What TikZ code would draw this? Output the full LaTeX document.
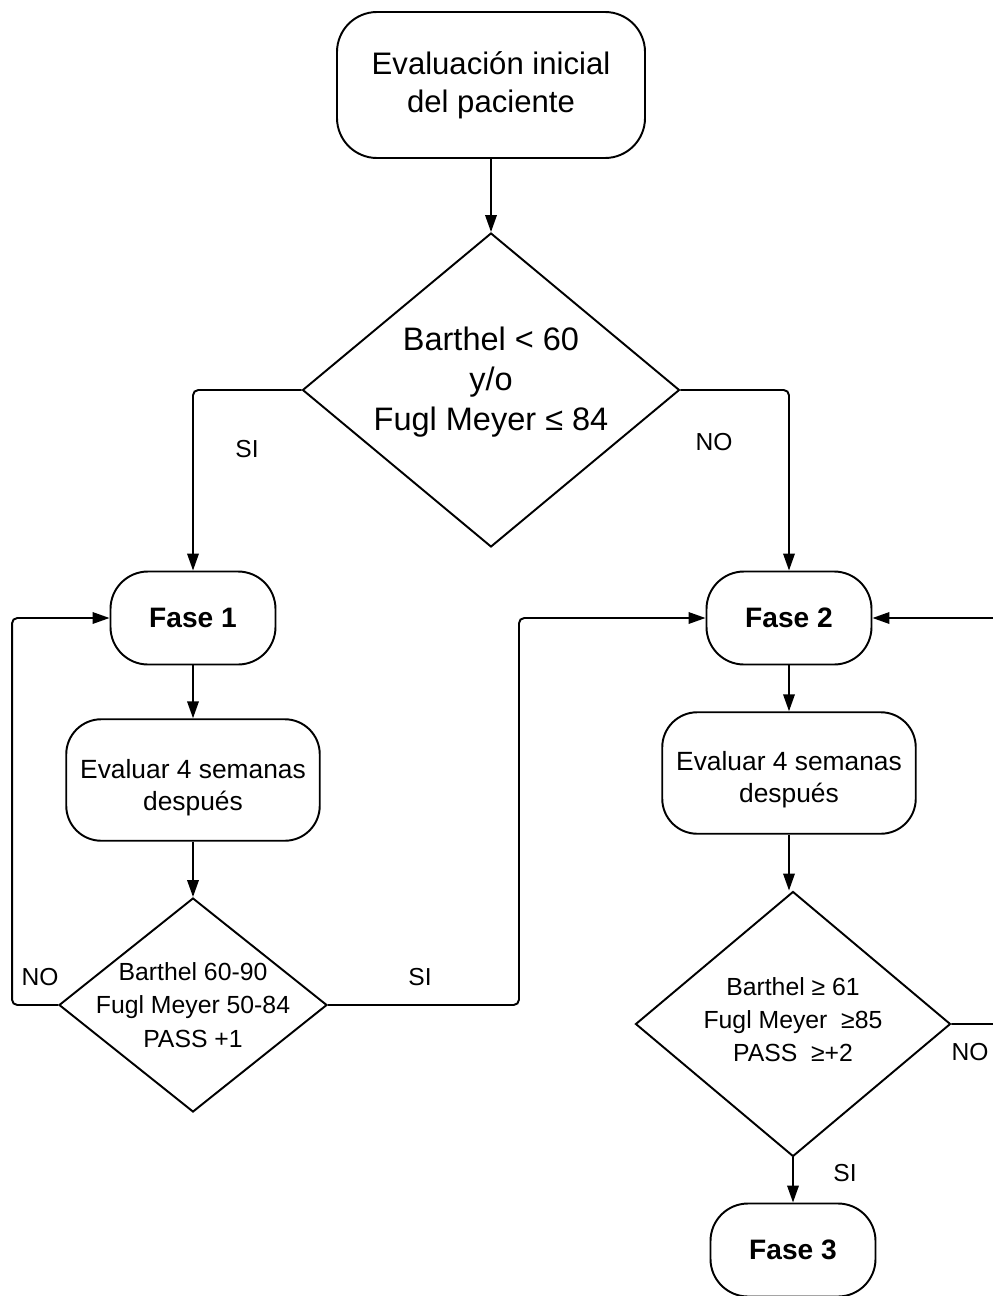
\documentclass[tikz,border=0pt]{standalone}
\usepackage{fontspec}
\setmainfont{Liberation Sans}
\usetikzlibrary{arrows.meta, positioning, shapes.geometric}
\tikzset{
  box/.style={rectangle,draw,line width=1.1pt,rounded corners=0.8cm,align=center,inner sep=2pt},
  fase/.style={box,rounded corners=0.75cm,minimum width=3.3cm,minimum height=1.86cm,font=\fontsize{16}{19}\selectfont\bfseries},
  evalbox/.style={box,rounded corners=0.7cm,minimum width=5.07cm,minimum height=2.43cm,font=\fontsize{15}{18.2}\selectfont},
  decision/.style={diamond,draw,line width=1.1pt,inner sep=0pt},
  dectext/.style={align=center,inner sep=0pt},
  lbl/.style={font=\fontsize{14}{16}\selectfont},
  line/.style={line width=1.1pt,rounded corners=3pt,-{Triangle[length=3.4mm,width=2.3mm]}}
}
\begin{document}
\begin{tikzpicture}
\useasboundingbox (0,0) rectangle (19.86,-25.92);
\node[box, minimum width=6.16cm, minimum height=2.92cm, font=\fontsize{17.7}{21.6}\selectfont] (start) at (9.82,-1.70) {Evaluación inicial\\del paciente};
\node[decision, minimum width=7.54cm, minimum height=6.28cm] (dec1) at (9.82,-7.80) {};
\node[dectext, font=\fontsize{18.5}{22.8}\selectfont] (txt1) at ([yshift=1.5mm]dec1.center) {Barthel < 60\\y/o\\Fugl Meyer ≤ 84};
\node[fase] (fase1) at (3.86,-12.36) {Fase 1};
\node[fase] (fase2) at (15.78,-12.36) {Fase 2};
\node[evalbox] (eval1) at (3.86,-15.60) {\raisebox{0pt}[\dimexpr\height+3.2mm\relax]{\begin{tabular}{@{}c@{}}Evaluar 4 semanas\\después\end{tabular}}};
\node[evalbox] (eval2) at (15.78,-15.46) {\raisebox{0pt}[\dimexpr\height+2.8mm\relax]{\begin{tabular}{@{}c@{}}Evaluar 4 semanas\\después\end{tabular}}};
\node[decision, minimum width=5.36cm, minimum height=4.28cm] (dec2) at (3.86,-20.10) {};
\node[dectext, font=\fontsize{14.1}{19.2}\selectfont] (txt2) at (dec2.center) {Barthel 60-90\\Fugl Meyer 50-84\\PASS +1};
\node[decision, minimum width=6.30cm, minimum height=5.30cm] (dec3) at (15.86,-20.48) {};
\node[dectext, font=\fontsize{14.1}{18.8}\selectfont] (txt3) at ([yshift=0.8mm]dec3.center) {Barthel ≥ 61\\Fugl Meyer\ \ ≥85\\PASS\ \ ≥+2};
\node[fase] (fase3) at (15.86,-25.00) {Fase 3};
% connectors
\draw[line] (start) -- (dec1);
\draw[line] (dec1.west) -| (fase1.north);
\draw[line] (dec1.east) -| (fase2.north);
\draw[line] (fase1) -- (eval1);
\draw[line] (eval1) -- (dec2);
\draw[line] (dec2.west) -- ++(-0.92,0) |- (fase1.west);
\draw[line] (dec2.east) -- ++(3.82,0) |- (fase2.west);
\draw[line] (fase2) -- (eval2);
\draw[line] (eval2.south) -- (eval2.south |- dec3.north);
\draw[line] (dec3.east) -- ++(1.3,0) |- (fase2.east);
\draw[line] (dec3) -- (fase3);
% labels
\node[lbl] (si1) at (4.94,-8.98) {SI};
\node[lbl] (no1) at (14.28,-8.84) {NO};
\node[lbl] (no2) at (0.80,-19.54) {NO};
\node[lbl] (si2) at (8.40,-19.54) {SI};
\node[lbl] (no3) at (19.40,-21.04) {NO};
\node[lbl] (si3) at (16.90,-23.46) {SI};
\end{tikzpicture}
\end{document}
